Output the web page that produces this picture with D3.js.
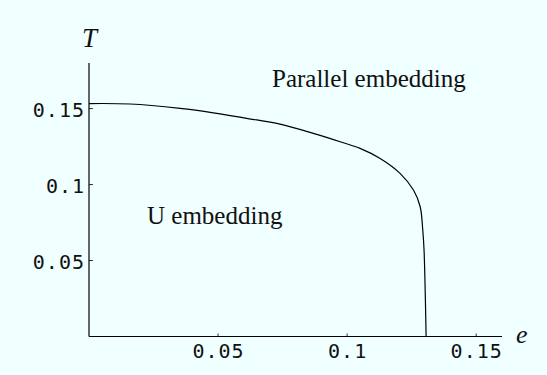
<!DOCTYPE html>
<html>
  <head>
    <script type="text/javascript" src="https://cdn.jsdelivr.net/npm/d3@7"></script>
    <style>
      body { margin: 0; background: #f0ffff; }
      .ticklab { font-family: "DejaVu Sans Mono", monospace; font-size: 20px; letter-spacing: 1px; fill: #111; }
      .serif { font-family: "Liberation Serif", serif; fill: #111; }
    </style>
  </head>
  <body>
    <script type="text/javascript">
      WIDTH = 547
      HEIGHT = 375

      // phase boundary
      var eValues = [0, 0.0159, 0.0353, 0.0482, 0.0611, 0.0740, 0.0869, 0.0973, 0.1050, 0.1128, 0.1205, 0.1257, 0.1283, 0.1293, 0.1298, 0.1306]
      var TValues = [0.1533, 0.1530, 0.1501, 0.1472, 0.1436, 0.1398, 0.1337, 0.1282, 0.1238, 0.1172, 0.1074, 0.0964, 0.0854, 0.0701, 0.0569, 0]
      var xTicks = [0.05, 0.1, 0.15]
      var yTicks = [0.05, 0.1, 0.15]
      var xTickLabels = ["0.05", "0.1", "0.15"]
      var yTickLabels = ["0.05", "0.1", "0.15"]

      var svg = d3.select("body")
            .append("svg")
            .attr("width", WIDTH)
            .attr("height", HEIGHT)

      svg.append("rect").attr("width", WIDTH).attr("height", HEIGHT).attr("fill", "#f0ffff")

      // scales
      var xscale = d3.scaleLinear().domain([0, 0.16]).range([89, 502])
      var yscale = d3.scaleLinear().domain([0, 0.18]).range([336.5, 63])

      // axes lines
      svg.append("line")
        .attr("x1", xscale(0)).attr("x2", xscale(0))
        .attr("y1", yscale(0)).attr("y2", yscale(0.18))
        .attr("stroke", "#000").attr("stroke-width", 1.2)
      svg.append("line")
        .attr("x1", xscale(0)).attr("x2", xscale(0.16))
        .attr("y1", yscale(0)).attr("y2", yscale(0))
        .attr("stroke", "#000").attr("stroke-width", 1.2)

      // x ticks (small, pointing up into the plot)
      xTicks.forEach(function(t, i) {
        svg.append("line")
          .attr("x1", xscale(t)).attr("x2", xscale(t))
          .attr("y1", yscale(0)).attr("y2", yscale(0) - 3)
          .attr("stroke", "#000").attr("stroke-width", 0.8)
        svg.append("text").attr("class", "ticklab")
          .attr("x", xscale(t) + 0.5).attr("y", yscale(0) + 21)
          .attr("text-anchor", "middle")
          .text(xTickLabels[i])
      })

      // y ticks
      yTicks.forEach(function(t, i) {
        svg.append("line")
          .attr("x1", xscale(0)).attr("x2", xscale(0) + 4)
          .attr("y1", yscale(t)).attr("y2", yscale(t))
          .attr("stroke", "#000").attr("stroke-width", 0.8)
        svg.append("text").attr("class", "ticklab")
          .attr("x", xscale(0) - 4).attr("y", yscale(t) + 8)
          .attr("text-anchor", "end")
          .text(yTickLabels[i])
      })

      // the curve
      var line = d3.line()
        .x(function(d) { return xscale(d[0]) })
        .y(function(d) { return yscale(d[1]) })
        .curve(d3.curveCatmullRom.alpha(0.5))
      svg.append("path")
        .datum(eValues.map(function(e, i) { return [e, TValues[i]] }))
        .attr("d", line)
        .attr("fill", "none")
        .attr("stroke", "#000")
        .attr("stroke-width", 1.2)

      // labels
      svg.append("text").attr("class", "serif")
        .attr("x", 82).attr("y", 47)
        .style("font-size", "27px").style("font-style", "italic")
        .text("T")
      svg.append("text").attr("class", "serif")
        .attr("x", 516).attr("y", 343)
        .style("font-size", "26px").style("font-style", "italic")
        .text("e")
      svg.append("text").attr("class", "serif")
        .attr("x", 272).attr("y", 87)
        .style("font-size", "25px")
        .text("Parallel embedding")
      svg.append("text").attr("class", "serif")
        .attr("x", 147).attr("y", 224)
        .style("font-size", "25px")
        .text("U embedding")
    </script>
  </body>
</html>
